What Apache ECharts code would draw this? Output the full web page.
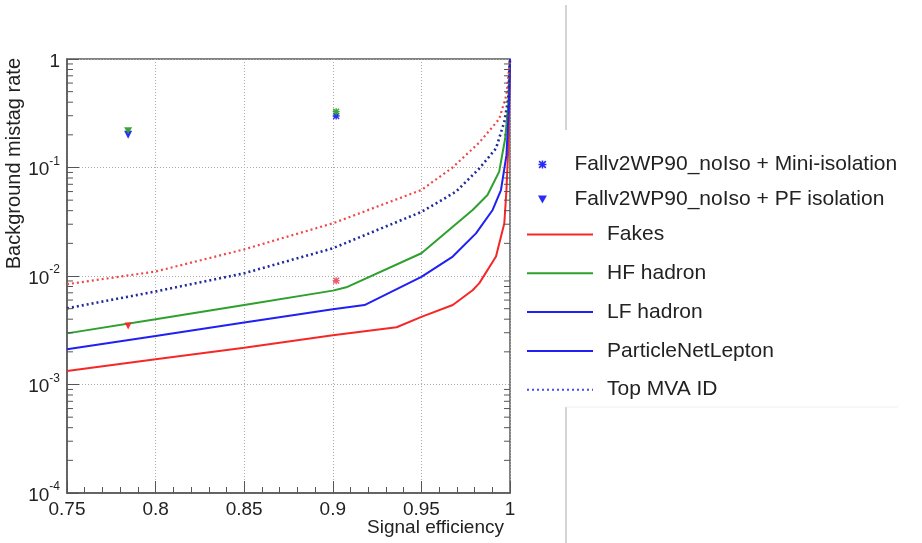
<!DOCTYPE html>
<html><head><meta charset="utf-8">
<script src="https://cdn.jsdelivr.net/npm/echarts@6/dist/echarts.min.js"></script>
<style>html,body{margin:0;padding:0;background:#fff}#c{width:922px;height:543px}</style>
</head><body><div id="c"></div>
<script>
// ---- data ----
const xTickValues = [0.75, 0.8, 0.85, 0.9, 0.95, 1];
const yTickExponents = [0, -1, -2, -3, -4];
const minorMultipliers = [2, 3, 4, 5, 6, 7, 8, 9];
const minorDecades = [1e-4, 1e-3, 1e-2, 1e-1];

// ParticleNetLepton (solid)
const fakesX = [0.75, 0.8, 0.85, 0.9, 0.936, 0.95, 0.9677, 0.9789, 0.9827, 0.9921, 0.9968, 0.998, 0.999, 0.9995, 1.0];
const fakesY = [1.33e-3, 1.71e-3, 2.18e-3, 2.84e-3, 3.37e-3, 4.2e-3, 5.4e-3, 7.4e-3, 8.6e-3, 0.0151, 0.0306, 0.062, 0.15, 0.35, 1.0];
const hfX = [0.75, 0.8, 0.85, 0.9, 0.9076, 0.95, 0.9677, 0.9789, 0.9873, 0.9939, 0.9973, 0.999, 1.0];
const hfY = [2.96e-3, 3.99e-3, 5.4e-3, 7.33e-3, 7.87e-3, 0.0162, 0.0285, 0.0406, 0.0558, 0.0916, 0.186, 0.38, 1.0];
const lfX = [0.75, 0.8, 0.85, 0.9, 0.9179, 0.95, 0.9677, 0.9808, 0.9902, 0.9949, 0.998, 0.9995, 1.0];
const lfY = [2.11e-3, 2.8e-3, 3.72e-3, 4.93e-3, 5.4e-3, 9.8e-3, 0.0151, 0.0247, 0.0406, 0.062, 0.13, 0.4, 1.0];

// Top MVA ID (dotted)
const mvaFakesX = [0.75, 0.8, 0.85, 0.9, 0.95, 0.9676, 0.9827, 0.9939, 0.998, 1.0];
const mvaFakesY = [8.4e-3, 0.011, 0.0176, 0.0306, 0.062, 0.1, 0.17, 0.28, 0.466, 1.0];
const mvaLfX = [0.75, 0.8, 0.85, 0.9, 0.95, 0.9695, 0.9827, 0.9921, 0.9968, 0.999, 1.0];
const mvaLfY = [5.04e-3, 7.2e-3, 0.0106, 0.018, 0.039, 0.0598, 0.098, 0.15, 0.264, 0.43, 1.0];

// Working points
const pfIsoX = [0.7845, 0.7845, 0.7845];      // blue, green, red
const pfIsoY = [0.2, 0.218, 3.46e-3];
const miniIsoX = [0.9019, 0.9019, 0.9019];    // blue, green, red
const miniIsoY = [0.298, 0.327, 9.06e-3];

const RED = '#f52828', GREEN = '#2ea02e', BLUE = '#2020f5', NAVY = '#1f2a9c';
const FONT = 'Liberation Sans, Arial, Helvetica, sans-serif';

const zip = (xs, ys) => xs.map((x, i) => [x, ys[i]]);
const STAR = 'path://M4,0H6V10H4Z M0,4H10V6H0Z M1.5,0.1L9.9,8.5L8.5,9.9L0.1,1.5Z M8.5,0.1L9.9,1.5L1.5,9.9L0.1,8.5Z';
const TRI = 'path://M0,0L10,0L5,9Z';
const MINI = 'Fallv2WP90_noIso + Mini-isolation';
const PF = 'Fallv2WP90_noIso + PF isolation';

const minorVals = [];
minorDecades.forEach(d => minorMultipliers.forEach(m => minorVals.push([0.75, d * m])));

function lineSeries(name, xs, ys, color, type, width) {
  return { name, type: 'line', data: zip(xs, ys), symbol: 'none', showSymbol: false,
    lineStyle: { color, width, type }, itemStyle: { color }, z: 3, animation: false };
}
function pointSeries(name, x, y, color, symbol, size) {
  return { name, type: 'scatter', data: [[x, y]], symbol, symbolSize: size,
    itemStyle: { color, opacity: 0.95 }, z: 5, animation: false };
}

const chart = echarts.init(document.getElementById('c'));
chart.setOption({
  backgroundColor: '#fff',
  animation: false,
  textStyle: { fontFamily: FONT },
  grid: { left: 67, right: 412, top: 59, bottom: 50, show: true, borderColor: '#5a5a5a', borderWidth: 1.5, backgroundColor: 'transparent' },
  xAxis: {
    type: 'value', min: 0.75, max: 1, interval: 0.05,
    axisLine: { show: true, lineStyle: { color: '#5a5a5a', width: 1.5 } },
    axisTick: { show: true, inside: true, length: 12, lineStyle: { color: '#555' } },
    minorTick: { show: true, splitNumber: 5, length: 6, lineStyle: { color: '#555' } },
    splitLine: { show: true, lineStyle: { color: '#aaa', type: [1, 2], width: 1 } },
    axisLabel: { color: '#222', fontSize: 19, margin: 7, fontFamily: FONT,
      formatter: v => { const t = xTickValues.find(a => Math.abs(a - v) < 1e-6); return t === undefined ? '' : String(t); } }
  },
  yAxis: {
    type: 'log', logBase: 10, min: 1e-4, max: 1,
    axisLine: { show: true, lineStyle: { color: '#5a5a5a', width: 1.5 } },
    axisTick: { show: true, inside: true, length: 12, lineStyle: { color: '#555' } },
    splitLine: { show: true, lineStyle: { color: '#aaa', type: [1, 2], width: 1 } },
    axisLabel: { color: '#222', fontSize: 19, margin: 7, fontFamily: FONT,
      formatter: v => { const e = Math.round(Math.log10(v)); if (!yTickExponents.includes(e)) return ''; return e === 0 ? '{b|1}' : '{b|10}{s|' + e + '}'; },
      rich: { b: { fontSize: 19, color: '#222', fontFamily: FONT, lineHeight: 24, verticalAlign: 'bottom' },
              s: { fontSize: 12, color: '#222', fontFamily: FONT, lineHeight: 24, verticalAlign: 'top' } } }
  },
  legend: [
    { data: [MINI, PF], orient: 'vertical', left: 533, top: 149, itemWidth: 54, itemHeight: 8, itemGap: 14,
      textStyle: { fontSize: 21, color: '#222', fontFamily: FONT, lineHeight: 20 } },
    { data: ['Fakes', 'HF hadron', 'LF hadron', 'ParticleNetLepton', 'Top MVA ID'], orient: 'vertical',
      left: 521, top: 219, itemWidth: 66, itemHeight: 14, itemGap: 17.8,
      itemStyle: { opacity: 0 },
      textStyle: { fontSize: 21, color: '#222', fontFamily: FONT, lineHeight: 20, padding: [0, 0, 0, 9] } }
  ],
  graphic: [
    { type: 'text', x: 14, y: 58, rotation: Math.PI / 2, style: { text: 'Background mistag rate', font: '20px ' + FONT, fill: '#222', align: 'right', verticalAlign: 'middle' } },
    { type: 'text', x: 504, y: 528, style: { text: 'Signal efficiency', font: '19px ' + FONT, fill: '#222', align: 'right', verticalAlign: 'middle' } },
    { type: 'line', shape: { x1: 566, y1: 5, x2: 566, y2: 130 }, style: { stroke: '#d4d4d4', lineWidth: 2 } },
    { type: 'line', shape: { x1: 566, y1: 407, x2: 566, y2: 543 }, style: { stroke: '#d4d4d4', lineWidth: 2 } },
    { type: 'line', shape: { x1: 566, y1: 407, x2: 898, y2: 407 }, style: { stroke: '#f0f0f0', lineWidth: 1 } }
  ],
  series: [
    lineSeries('Fakes', fakesX, fakesY, RED, 'solid', 2),
    lineSeries('HF hadron', hfX, hfY, GREEN, 'solid', 2),
    lineSeries('LF hadron', lfX, lfY, BLUE, 'solid', 2),
    lineSeries('ParticleNetLepton', [], [], BLUE, 'solid', 2),
    lineSeries('Top MVA ID', [], [], '#4a4af0', [2, 3], 2),
    lineSeries('Fakes Top MVA ID', mvaFakesX, mvaFakesY, '#f04848', [2, 3], 2.2),
    lineSeries('LF Top MVA ID', mvaLfX, mvaLfY, NAVY, [2, 3], 2.6),
    pointSeries(PF, pfIsoX[0], pfIsoY[0], BLUE, TRI, [8, 8]),
    pointSeries('PF green', pfIsoX[1], pfIsoY[1], GREEN, TRI, [8, 7]),
    pointSeries('PF red', pfIsoX[2], pfIsoY[2], RED, TRI, [7, 7]),
    pointSeries(MINI, miniIsoX[0], miniIsoY[0], BLUE, STAR, 7),
    pointSeries('Mini green', miniIsoX[1], miniIsoY[1], GREEN, STAR, 7),
    pointSeries('Mini red', miniIsoX[2], miniIsoY[2], '#f05060', STAR, 7),
    { type: 'custom', name: 'minorTicks', data: minorVals, silent: true, z: 6, animation: false,
      renderItem: (params, api) => {
        const p = api.coord([0.75, api.value(1)]);
        const pr = api.coord([1, api.value(1)]);
        return { type: 'group', children: [
          { type: 'line', shape: { x1: p[0], y1: p[1], x2: p[0] + 6, y2: p[1] }, style: { stroke: '#555', lineWidth: 1 } },
          { type: 'line', shape: { x1: pr[0] - 6, y1: pr[1], x2: pr[0], y2: pr[1] }, style: { stroke: '#555', lineWidth: 1 } }
        ] };
      } }
  ]
});
</script></body></html>
